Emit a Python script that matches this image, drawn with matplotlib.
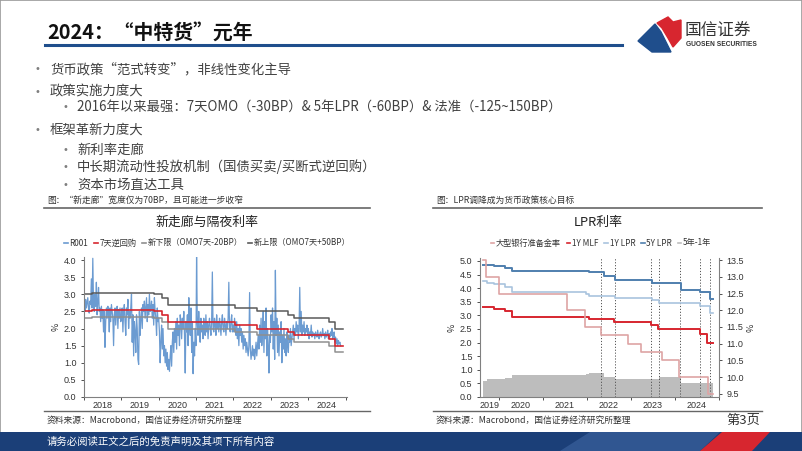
import numpy as np
import pandas as pd
import matplotlib
matplotlib.use("Agg")
import matplotlib.pyplot as plt
from matplotlib.patches import Polygon, Rectangle
from matplotlib.lines import Line2D

CJK = ["Noto Sans CJK SC", "DejaVu Sans"]
plt.rcParams["font.family"] = CJK

W, H = 802, 451


def fx(x):
    return x / W


def fy(y):
    return 1 - y / H


# ---------------- data ----------------
# R001, roughly weekly readings
r001_2018 = [2.7, 2.5, 2.85, 2.6, 2.75, 2.9, 2.6, 2.45, 2.8, 2.7, 3.45,
             2.6, 4.05, 2.7, 2.5, 3.0, 2.65, 3.35, 2.4, 2.75, 3.2,
             2.5, 2.6, 2.2, 2.65, 2.3, 2.55, 1.9, 2.5, 1.45, 2.2,
             2.6, 2.3, 2.65, 2.4, 1.9, 2.6, 2.2, 2.7, 2.5, 2.3,
             1.5, 2.4, 2.6, 2.1, 2.5, 2.65, 2.0, 2.55, 2.3, 2.6, 2.2]
r001_2019 = [2.3, 2.6, 1.9, 2.5, 2.7, 2.2, 1.8, 2.6, 2.4, 2.85, 2.0,
             2.5, 2.3, 2.6, 3.0, 1.6, 2.4, 1.2, 2.2, 1.9, 1.3,
             2.4, 2.0, 1.1, 0.95, 2.5, 1.8, 2.3, 2.6, 2.0, 2.7,
             2.5, 2.8, 2.3, 2.6, 2.9, 2.2, 2.7, 2.4, 3.0, 2.5,
             2.6, 2.8, 2.3, 2.7, 2.1, 2.9, 2.5, 2.3, 1.8, 2.6, 2.2]
r001_2020 = [2.3, 1.9, 1.0, 1.6, 2.1, 1.4, 2.0, 1.2, 1.5, 1.0, 1.4,
             0.9, 1.3, 0.8, 1.1, 0.75, 1.2, 1.5, 0.9, 1.6, 1.9,
             1.3, 2.0, 1.6, 2.2, 1.4, 2.3, 1.8, 2.1, 1.5, 2.4,
             2.2, 1.7, 2.3, 2.0, 2.5, 1.8, 0.7, 2.2, 1.9, 2.4,
             1.5, 2.9, 2.1, 1.8, 2.6, 1.3, 2.2, 0.68, 1.6, 1.2, 2.0]
r001_2021 = [1.5, 4.1, 2.2, 1.8, 2.5, 2.0, 1.6, 2.3, 1.9, 2.1, 1.7,
             2.3, 2.0, 1.8, 2.4, 1.9, 2.2, 1.7, 2.1, 2.3, 2.0,
             1.8, 2.2, 3.65, 2.0, 1.9, 2.3, 2.1, 1.8, 2.4, 2.0,
             2.2, 1.9, 2.3, 2.1, 1.8, 2.2, 2.4, 2.0, 1.9, 2.3,
             2.1, 1.8, 2.2, 2.0, 2.3, 3.35, 2.0, 1.9, 2.2, 2.4, 1.9]
r001_2022 = [2.1, 1.9, 2.3, 2.0, 1.8, 2.2, 1.7, 2.0, 1.5, 2.1, 1.8,
             2.0, 1.6, 1.9, 1.4, 1.8, 1.5, 1.7, 1.3, 1.6, 1.4,
             1.2, 1.5, 3.05, 1.4, 1.1, 1.3, 1.5, 1.2, 1.4, 1.1,
             1.3, 1.6, 1.2, 1.5, 1.8, 1.4, 2.1, 1.6, 2.3, 1.5,
             1.9, 2.5, 1.3, 2.2, 1.7, 2.6, 1.2, 2.0, 1.5, 0.7, 1.8]
r001_2023 = [1.6, 2.4, 1.9, 2.6, 1.4, 2.2, 1.1, 3.7, 1.8, 2.3, 1.3,
             2.1, 1.2, 1.9, 1.6, 2.2, 1.0, 1.8, 1.4, 2.0, 1.3,
             1.7, 1.2, 1.9, 1.5, 1.3, 1.8, 1.6, 2.0, 1.5, 1.7,
             1.9, 2.1, 1.7, 2.0, 1.8, 2.2, 1.9, 2.1, 1.7, 2.0,
             3.2, 1.9, 2.5, 1.8, 2.1, 1.9, 2.2, 1.8, 2.0, 1.9, 2.1]
r001_2024 = [1.8, 2.0, 1.7, 1.9, 1.8, 2.1, 1.75, 1.9, 1.8, 1.85, 1.7,
             1.9, 1.8, 1.75, 1.95, 1.8, 1.7, 1.85, 1.9, 1.75, 1.8,
             2.0, 1.8, 1.85, 1.7, 1.9, 1.75, 1.8, 1.95, 1.7, 1.85,
             1.75, 1.9, 1.8, 2.0, 1.7, 1.85, 1.9, 1.6, 1.75, 1.55,
             1.7, 1.5, 1.65, 1.55, 1.6, 1.5]

# 7-day reverse repo and corridor (decimal years)
omo_dates = [2018.00, 2018.22, 2019.88, 2020.10, 2020.24, 2022.04, 2022.62,
             2023.45, 2023.62, 2024.56, 2024.73]
omo_rate = [2.50, 2.55, 2.50, 2.40, 2.20, 2.10, 2.00, 1.90, 1.80, 1.70, 1.50]
lower_rate = [2.30, 2.35, 2.30, 2.20, 2.00, 1.90, 1.80, 1.70, 1.60, 1.50, 1.30]
upper_rate = [3.00, 3.05, 3.00, 2.90, 2.70, 2.60, 2.50, 2.40, 2.30, 2.20, 2.00]
left_end = 2024.92

# LPR chart
lpr_dates = [2019.63, 2019.72, 2019.89, 2020.14, 2020.30, 2021.97, 2022.05,
             2022.38, 2022.64, 2023.47, 2023.64, 2024.14, 2024.56, 2024.80]
lpr_1y = [4.25, 4.20, 4.15, 4.05, 3.85, 3.80, 3.70, 3.70, 3.65, 3.55, 3.45,
          3.45, 3.35, 3.10]
lpr_5y = [4.85, 4.85, 4.80, 4.75, 4.65, 4.65, 4.60, 4.45, 4.30, 4.20, 4.20,
          3.95, 3.85, 3.60]
spread_5y1y = [0.60, 0.65, 0.65, 0.70, 0.80, 0.85, 0.90, 0.75, 0.65, 0.65,
               0.75, 0.50, 0.50, 0.50]
mlf_dates = [2019.63, 2019.88, 2020.13, 2020.29, 2022.04, 2022.62, 2023.46,
             2023.62, 2024.56, 2024.73]
mlf_1y = [3.30, 3.25, 3.15, 2.95, 2.85, 2.75, 2.65, 2.50, 2.30, 2.00]
rrr_dates = [2019.63, 2019.71, 2020.01, 2021.54, 2021.96, 2022.32, 2022.93,
             2023.22, 2023.71, 2024.10, 2024.74]
rrr_large = [13.5, 13.0, 12.5, 12.0, 11.5, 11.25, 11.0, 10.75, 10.5, 10.0, 9.5]
right_end = 2024.86
event_dates = [2022.33, 2022.64, 2023.46, 2023.64, 2024.11, 2024.56, 2024.79]

bullets = [
    (0, "货币政策“范式转变”，非线性变化主导", 69),
    (0, "政策实施力度大", 92),
    (1, "2016年以来最强：7天OMO（-30BP）& 5年LPR（-60BP）& 法准（-125~150BP）", 107),
    (0, "框架革新力度大", 130),
    (1, "新利率走廊", 150),
    (1, "中长期流动性投放机制（国债买卖/买断式逆回购）", 167),
    (1, "资本市场直达工具", 185),
]

C_R001 = "#6b9bd1"
C_RED = "#d7262f"
C_LOW = "#8f8f8f"
C_UP = "#5a5a5a"
C_5Y = "#4f7fae"
C_1Y = "#a9c4de"
C_RRR = "#dea4a4"
C_SPR = "#bdbdbd"
TXT = "#404040"


def step(ax, dates, vals, end, **kw):
    ax.step(list(dates) + [end], list(vals) + [vals[-1]], where="post", **kw)


def style_axis(ax):
    for s in ["top", "right"]:
        ax.spines[s].set_visible(False)
    for s in ["left", "bottom"]:
        ax.spines[s].set_color("#808080")
        ax.spines[s].set_linewidth(0.8)
    ax.tick_params(axis="both", which="both", labelsize=6.5, colors="#333333",
                   length=2, width=0.6)
    ax.tick_params(axis="x", which="major", length=0, pad=3)
    for lab in ax.get_xticklabels() + ax.get_yticklabels():
        lab.set_family(["Liberation Sans", "DejaVu Sans"])


fig = plt.figure(figsize=(8.02, 4.51), dpi=100)

# slide frame
fig.patches.append(Rectangle((0, 0), 1, 1, transform=fig.transFigure,
                             fill=False, edgecolor="#9a9a9a", lw=1.2))

# title
fig.text(fx(47), fy(32), "2024：“中特货”元年", fontsize=14.3, fontweight="bold",
         color="#111111", va="center", ha="left")
fig.add_artist(Line2D([fx(45), fx(622)], [fy(45), fy(45)], color="#1f4e8c", lw=2.2))

# logo
fig.patches.append(Polygon([(fx(x), fy(y)) for x, y in
                            [(638, 41), (655, 24), (661, 32), (665, 40), (671, 52), (652, 52)]],
                           closed=True, transform=fig.transFigure, color="#1f4e8c"))
fig.patches.append(Polygon([(fx(x), fy(y)) for x, y in
                            [(657, 23), (668, 17), (673, 22), (681, 20), (681, 38), (673, 47),
                             (668, 38), (662, 28)]],
                           closed=True, transform=fig.transFigure, color="#d7262f"))
fig.text(fx(685), fy(30), "国信证券", fontsize=12, color="#333333", va="center", ha="left")
fig.text(fx(686), fy(45), "GUOSEN SECURITIES", fontsize=4.8, fontweight="bold",
         color="#333333", va="center", ha="left", family=["Liberation Sans", "DejaVu Sans"])

# bullets
for level, text, y in bullets:
    xb = 35 if level == 0 else 62
    fig.text(fx(xb), fy(y), "•", fontsize=7, color="#7f7f7f", va="center", ha="left",
             family=["DejaVu Sans"])
    fig.text(fx(xb + 15), fy(y), text, fontsize=9.6, color=TXT, va="center", ha="left")

# captions / sources
for x0, x1, cap in [(44, 370, "图：“新走廊”宽度仅为70BP，且可能进一步收窄"),
                    (433, 762, "图：LPR调降成为货币政策核心目标")]:
    fig.text(fx(x0 + 3), fy(200), cap, fontsize=6.3, color="#333333", va="center", ha="left")
    fig.add_artist(Line2D([fx(x0), fx(x1)], [fy(208), fy(208)], color="#666666", lw=1.2))
    fig.add_artist(Line2D([fx(x0), fx(x1)], [fy(411), fy(411)], color="#666666", lw=1.0))
    fig.text(fx(x0 + 3), fy(420), "资料来源：Macrobond，国信证券经济研究所整理",
             fontsize=6.3, color="#333333", va="center", ha="left")
fig.text(fx(760), fy(420), "第3页", fontsize=9.5, color="#333333", va="center", ha="right")

# footer
fig.patches.append(Rectangle((0, 0), 1, fy(432), transform=fig.transFigure,
                             color="#1b3f78", lw=0))
fig.patches.append(Polygon([(fx(x), fy(y)) for x, y in
                            [(560, 451), (590, 432), (720, 432), (700, 451)]],
                           closed=True, transform=fig.transFigure, color="#3f66a3", alpha=0.6, lw=0))
fig.patches.append(Polygon([(fx(x), fy(y)) for x, y in
                            [(700, 451), (722, 432), (770, 432), (752, 451)]],
                           closed=True, transform=fig.transFigure, color="#d7262f", lw=0))
fig.text(fx(47), fy(442), "请务必阅读正文之后的免责声明及其项下所有内容", fontsize=7.5,
         color="white", va="center", ha="left")

# ---------------- left chart ----------------
fig.text(fx(207), fy(222), "新走廊与隔夜利率", fontsize=9.3, color="#222222",
         va="center", ha="center")
ax1 = fig.add_axes([fx(84), fy(397), fx(347) - fx(84), (397 - 256.6) / H])
r001 = r001_2018 + r001_2019 + r001_2020 + r001_2021 + r001_2022 + r001_2023 + r001_2024
r_dates = pd.date_range("2018-01-03", periods=len(r001), freq="7D")
r_x = r_dates.year + (r_dates.dayofyear - 1) / 365.0
ax1.plot(r_x, r001, color=C_R001, lw=0.9)
step(ax1, omo_dates, lower_rate, left_end, color=C_LOW, lw=1.1)
step(ax1, omo_dates, upper_rate, left_end, color=C_UP, lw=1.1)
step(ax1, omo_dates, omo_rate, left_end, color=C_RED, lw=1.2)
ax1.set_xlim(2018.0, 2025.04)
ax1.set_ylim(0, 4.1)
ax1.set_yticks(np.arange(0, 4.01, 0.5))
ax1.set_yticklabels([f"{v:.1f}" for v in np.arange(0, 4.01, 0.5)])
ax1.set_xticks([y + 0.5 for y in range(2018, 2025)])
ax1.set_xticklabels([str(y) for y in range(2018, 2025)])
ax1.set_xticks(range(2018, 2026), minor=True)
style_axis(ax1)
ax1.set_ylabel("%", fontsize=6.5, color="#333333", labelpad=2)

h1 = [Line2D([], [], color=c, lw=1.2) for c in [C_R001, C_RED, C_LOW, C_UP]]
fig.legend(h1, ["R001", "7天逆回购", "新下限（OMO7天-20BP）", "新上限（OMO7天+50BP）"],
           loc="center", bbox_to_anchor=(fx(207), fy(243)), ncol=4, frameon=False,
           fontsize=5.9, handlelength=0.45, handletextpad=0.2, columnspacing=0.7,
           labelcolor="#333333")

# ---------------- right chart ----------------
fig.text(fx(598), fy(222), "LPR利率", fontsize=9.3, color="#222222",
         va="center", ha="center")
ax2 = fig.add_axes([fx(480), fy(397), fx(719) - fx(480), (397 - 258) / H])
ax2.fill_between(list(lpr_dates) + [right_end], list(spread_5y1y) + [spread_5y1y[-1]],
                 step="post", color=C_SPR, lw=0)
for d in event_dates:
    ax2.axvline(d, color="#555555", lw=0.7, ls=(0, (1.2, 1.8)))
step(ax2, lpr_dates, lpr_1y, right_end, color=C_1Y, lw=1.2)
step(ax2, lpr_dates, lpr_5y, right_end, color=C_5Y, lw=1.4)
step(ax2, mlf_dates, mlf_1y, right_end, color=C_RED, lw=1.4)
ax2.set_xlim(2019.57, 2025.0)
ax2.set_ylim(0, 5.11)
ax2.set_yticks(np.arange(0, 5.01, 0.5))
ax2.set_yticklabels([f"{v:.1f}" for v in np.arange(0, 5.01, 0.5)])
ax2.set_xticks([2019.79] + [y + 0.5 for y in range(2020, 2025)])
ax2.set_xticklabels([str(y) for y in range(2019, 2025)])
ax2.set_xticks(range(2020, 2026), minor=True)
style_axis(ax2)
ax2.set_ylabel("%", fontsize=6.5, color="#333333", labelpad=2)

ax2r = ax2.twinx()
step(ax2r, rrr_dates, rrr_large, right_end, color=C_RRR, lw=1.2)
ax2r.set_ylim(9.41, 13.56)
ax2r.set_yticks(np.arange(9.5, 13.51, 0.5))
ax2r.set_yticklabels([f"{v:.1f}" for v in np.arange(9.5, 13.51, 0.5)])
for s in ["top", "left", "bottom"]:
    ax2r.spines[s].set_visible(False)
ax2r.spines["right"].set_color("#808080")
ax2r.spines["right"].set_linewidth(0.8)
ax2r.tick_params(axis="y", labelsize=6.5, colors="#333333", length=2, width=0.6)
for lab in ax2r.get_yticklabels():
    lab.set_family(["Liberation Sans", "DejaVu Sans"])
ax2r.set_ylabel("%", fontsize=6.5, color="#333333", labelpad=2)

h2 = [Line2D([], [], color=c, lw=1.2) for c in [C_RRR, C_RED, C_1Y, C_5Y, C_SPR]]
fig.legend(h2, ["大型银行准备金率", "1Y MLF", "1Y LPR", "5Y LPR", "5年-1年"],
           loc="center", bbox_to_anchor=(fx(601), fy(243)), ncol=5, frameon=False,
           fontsize=5.9, handlelength=0.45, handletextpad=0.2, columnspacing=0.7,
           labelcolor="#333333")

fig.savefig("out.png", dpi=100)
